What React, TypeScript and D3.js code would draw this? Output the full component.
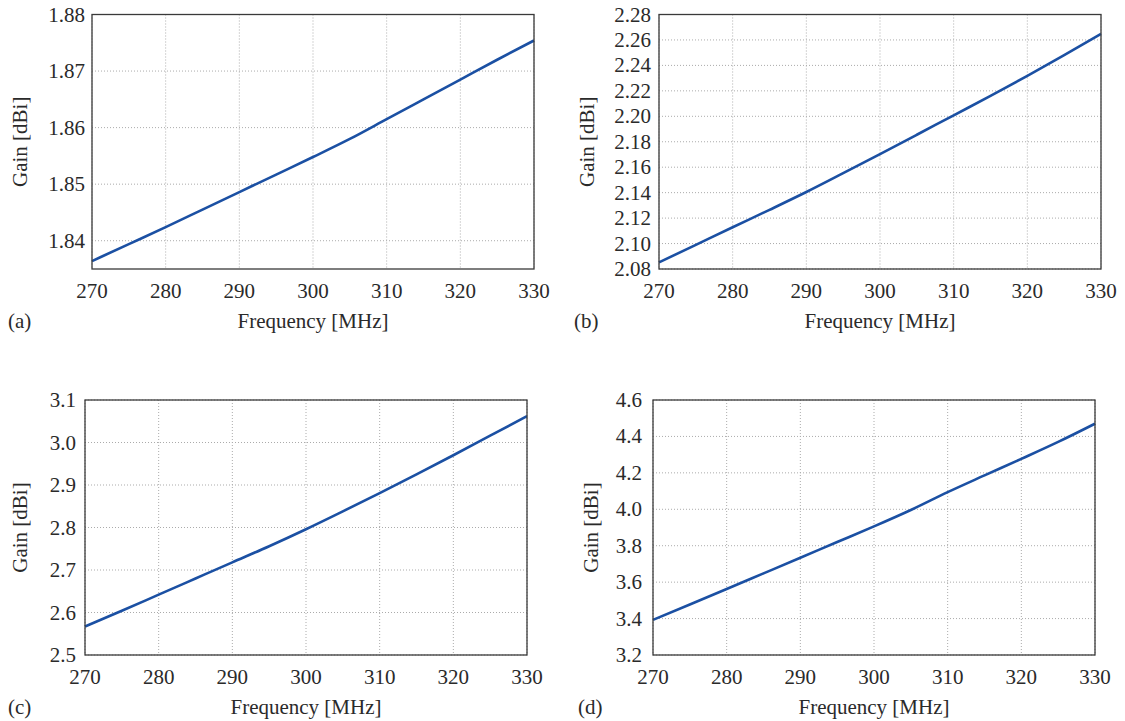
import React from "react";
import * as d3 from "d3";

const frequencies = [270, 275, 280, 285, 290, 295, 300, 305, 310, 315, 320, 325, 330];
const gainA = [1.8364, 1.8394, 1.8424, 1.8455, 1.8486, 1.8517, 1.8548, 1.858, 1.8615, 1.865, 1.8685, 1.872, 1.8754];
const gainB = [2.0852, 2.099, 2.1128, 2.1265, 2.1405, 2.1553, 2.1703, 2.1855, 2.2008, 2.216, 2.2318, 2.248, 2.2647];
const gainC = [2.567, 2.604, 2.642, 2.68, 2.718, 2.756, 2.796, 2.838, 2.881, 2.925, 2.97, 3.016, 3.062];
const gainD = [3.393, 3.477, 3.562, 3.648, 3.734, 3.82, 3.906, 3.996, 4.094, 4.186, 4.277, 4.37, 4.47];

const xTicks = [270, 280, 290, 300, 310, 320, 330];
const yTicksA = [1.84, 1.85, 1.86, 1.87, 1.88];
const yTicksB = [2.08, 2.1, 2.12, 2.14, 2.16, 2.18, 2.2, 2.22, 2.24, 2.26, 2.28];
const yTicksC = [2.5, 2.6, 2.7, 2.8, 2.9, 3.0, 3.1];
const yTicksD = [3.2, 3.4, 3.6, 3.8, 4.0, 4.2, 4.4, 4.6];

const panelLetters = ["(a)", "(b)", "(c)", "(d)"];
const xLabel = "Frequency [MHz]";
const yLabel = "Gain [dBi]";

const FONT = "'Liberation Serif', 'Times New Roman', serif";
const LINE_COLOR = "#1b50a3";
const TEXT_COLOR = "#2a2a2a";

type PanelSpec = {
  left: number; right: number; top: number; bottom: number;
  yDomain: [number, number]; yTicks: number[]; decimals: number;
  values: number[]; letter: string; letterX: number; yLabelX: number; tickGap: number;
};

const panels: PanelSpec[] = [
  { left: 92, right: 534, top: 14.5, bottom: 269, yDomain: [1.835, 1.88], yTicks: yTicksA, decimals: 2, values: gainA, letter: panelLetters[0], letterX: 8, yLabelX: 27, tickGap: 7 },
  { left: 659, right: 1101, top: 14.5, bottom: 269, yDomain: [2.08, 2.28], yTicks: yTicksB, decimals: 2, values: gainB, letter: panelLetters[1], letterX: 574, yLabelX: 594, tickGap: 8 },
  { left: 85, right: 527, top: 400, bottom: 655, yDomain: [2.5, 3.1], yTicks: yTicksC, decimals: 1, values: gainC, letter: panelLetters[2], letterX: 8, yLabelX: 27, tickGap: 9 },
  { left: 653, right: 1095, top: 400, bottom: 655, yDomain: [3.2, 4.6], yTicks: yTicksD, decimals: 1, values: gainD, letter: panelLetters[3], letterX: 578, yLabelX: 598, tickGap: 11 },
];

function Panel({ p }: { p: PanelSpec }) {
  const x = d3.scaleLinear().domain([270, 330]).range([p.left, p.right]);
  const y = d3.scaleLinear().domain(p.yDomain).range([p.bottom, p.top]);
  const line = d3
    .line<number>()
    .x((_, i) => x(frequencies[i]))
    .y((v) => y(v))
    .curve(d3.curveMonotoneX);
  const cx = (p.left + p.right) / 2;
  const cy = (p.top + p.bottom) / 2;
  return (
    <g>
      {xTicks.map((t) => (
        <line key={"gx" + t} x1={x(t)} x2={x(t)} y1={p.top} y2={p.bottom} stroke="#ababab" strokeWidth={1} strokeDasharray="1 2" />
      ))}
      {p.yTicks.map((t) => (
        <line key={"gy" + t} x1={p.left} x2={p.right} y1={y(t)} y2={y(t)} stroke="#ababab" strokeWidth={1} strokeDasharray="1 2" />
      ))}
      <path d={line(p.values) || ""} fill="none" stroke={LINE_COLOR} strokeWidth={2.6} strokeLinejoin="round" />
      <rect x={p.left} y={p.top} width={p.right - p.left} height={p.bottom - p.top} fill="none" stroke="#3a3a3a" strokeWidth={1.3} />
      {xTicks.map((t) => (
        <text key={"tx" + t} x={x(t)} y={p.bottom + 29} textAnchor="middle" fontSize={21} fontFamily={FONT} fill={TEXT_COLOR}>
          {t}
        </text>
      ))}
      {p.yTicks.map((t) => (
        <text key={"ty" + t} x={p.left - p.tickGap} y={y(t) + 7} textAnchor="end" fontSize={21} fontFamily={FONT} fill={TEXT_COLOR}>
          {d3.format("." + p.decimals + "f")(t)}
        </text>
      ))}
      <text x={cx} y={p.bottom + 59} textAnchor="middle" fontSize={21} fontFamily={FONT} fill={TEXT_COLOR}>
        {xLabel}
      </text>
      <text transform={`translate(${p.yLabelX},${cy}) rotate(-90)`} textAnchor="middle" fontSize={21} fontFamily={FONT} fill={TEXT_COLOR}>
        {yLabel}
      </text>
      <text x={p.letterX} y={p.bottom + 59} fontSize={21} fontFamily={FONT} fill={TEXT_COLOR}>
        {p.letter}
      </text>
    </g>
  );
}

export default function App() {
  return (
    <svg width={1125} height={721} style={{ position: "absolute", left: 0, top: 0, background: "#fff" }}>
      <rect width={1125} height={721} fill="#fff" />
      {panels.map((p, i) => (
        <Panel key={i} p={p} />
      ))}
    </svg>
  );
}
